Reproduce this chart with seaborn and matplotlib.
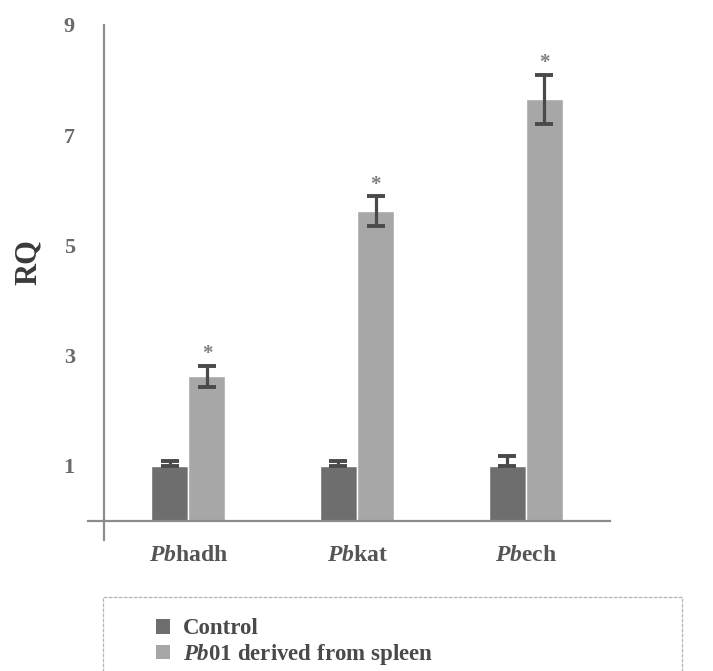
import matplotlib
matplotlib.use("Agg")
import matplotlib.pyplot as plt
from matplotlib.patches import Patch, Rectangle
import pandas as pd
import seaborn as sns

# Relative quantification of fatty-acid oxidation genes
genes = ["Pbhadh", "Pbkat", "Pbech"]
gene_labels = [r"$\mathit{Pb}$hadh", r"$\mathit{Pb}$kat", r"$\mathit{Pb}$ech"]
groups = ["Control", "Pb01 derived from spleen"]
group_labels = ["Control", r"$\mathit{Pb}$01 derived from spleen"]
control_rq = [1.0, 1.0, 1.0]
control_err = [0.08, 0.09, 0.18]
spleen_rq = [2.63, 5.62, 7.65]
spleen_err = [0.19, 0.27, 0.45]
significant = [True, True, True]
y_ticks = [1, 3, 5, 7, 9]
group_colors = ["#6e6e6e", "#a7a7a7"]

df = pd.DataFrame({
    "gene": genes * 2,
    "group": [groups[0]] * 3 + [groups[1]] * 3,
    "rq": control_rq + spleen_rq,
})

sns.set_style("white")
plt.rcParams["font.family"] = ["Liberation Serif", "DejaVu Serif"]
plt.rcParams["font.weight"] = "bold"
plt.rcParams["mathtext.fontset"] = "custom"
plt.rcParams["mathtext.rm"] = "Liberation Serif:bold"
plt.rcParams["mathtext.it"] = "Liberation Serif:italic:bold"
plt.rcParams["mathtext.bf"] = "Liberation Serif:bold"

W, H = 713, 671
fig = plt.figure(figsize=(W / 100, H / 100), dpi=100)
ax = fig.add_axes([88 / W, 1 - 540.3 / H, 522 / W, 515.3 / H])

sns.barplot(data=df, x="gene", y="rq", hue="group", order=genes,
            hue_order=groups, palette=group_colors, saturation=1,
            width=0.44, errorbar=None, legend=False, ax=ax)

err_color = "#4a4a4a"
errs = [control_err, spleen_err]
vals = [control_rq, spleen_rq]
bar_containers = list(ax.containers)
for k, cont in enumerate(bar_containers):
    for i, bar in enumerate(cont.patches):
        xc = bar.get_x() + bar.get_width() / 2
        e = errs[k][i]
        # control bars carry only the upper half of the error bar
        yerr = [[0.0], [e]] if k == 0 else e
        ax.errorbar(xc, vals[k][i], yerr=yerr, fmt="none",
                    ecolor=err_color, elinewidth=2.3, capsize=6.5,
                    capthick=2.8, zorder=5)
        if k == 1 and significant[i]:
            ax.text(xc, vals[k][i] + e + 0.02, "*", ha="center",
                    va="bottom", fontsize=15, color="#808080")

ax.set_xlim(-0.595, 2.5)
ax.set_ylim(-0.35, 9.0)

axis_color = "#8c8c8c"
for side in ["top", "right"]:
    ax.spines[side].set_visible(False)
ax.spines["left"].set_position(("data", -0.5))
ax.spines["bottom"].set_position(("data", 0))
ax.spines["left"].set_bounds(-0.35, 9.0)
ax.spines["bottom"].set_bounds(-0.595, 2.5)
for side in ["left", "bottom"]:
    ax.spines[side].set_color(axis_color)
    ax.spines[side].set_linewidth(1.6)

ax.set_yticks(y_ticks)
ax.set_yticklabels([str(t) for t in y_ticks])
ax.set_xticks(range(len(genes)))
ax.set_xticklabels(gene_labels)
ax.set_xticks([0.5, 1.5], minor=True)
ax.tick_params(axis="y", direction="out", length=3, width=1.4,
               color=axis_color, pad=18, labelsize=16, labelcolor="#6a6a6a")
ax.tick_params(axis="x", which="major", length=0, pad=17, labelsize=17,
               labelcolor="#555555")
ax.tick_params(axis="x", which="minor", direction="out", length=4,
               width=1.4, color=axis_color)

ax.set_xlabel("")
ax.set_ylabel("RQ", fontsize=22, fontweight="bold", color="#3a3a3a")
ax.yaxis.set_label_coords(-0.086, 0.54)

# Legend panel below the chart
frame = Rectangle((103 / W, 1 - 695 / H), 579 / W, 98 / H,
                  transform=fig.transFigure, fill=False,
                  edgecolor="#b5b5b5", linewidth=0.9, linestyle=(0, (3, 1)))
fig.patches.append(frame)
handles = [Patch(facecolor=c, edgecolor="none") for c in group_colors]
fig.legend(handles, group_labels, loc="upper left",
           bbox_to_anchor=(145 / W, 1 - 607 / H), frameon=False,
           fontsize=16.5, handlelength=0.6, handleheight=0.6,
           handletextpad=0.55, labelspacing=0.12, borderpad=0,
           labelcolor="#4a4a4a")

fig.savefig("out.png", dpi=100)
